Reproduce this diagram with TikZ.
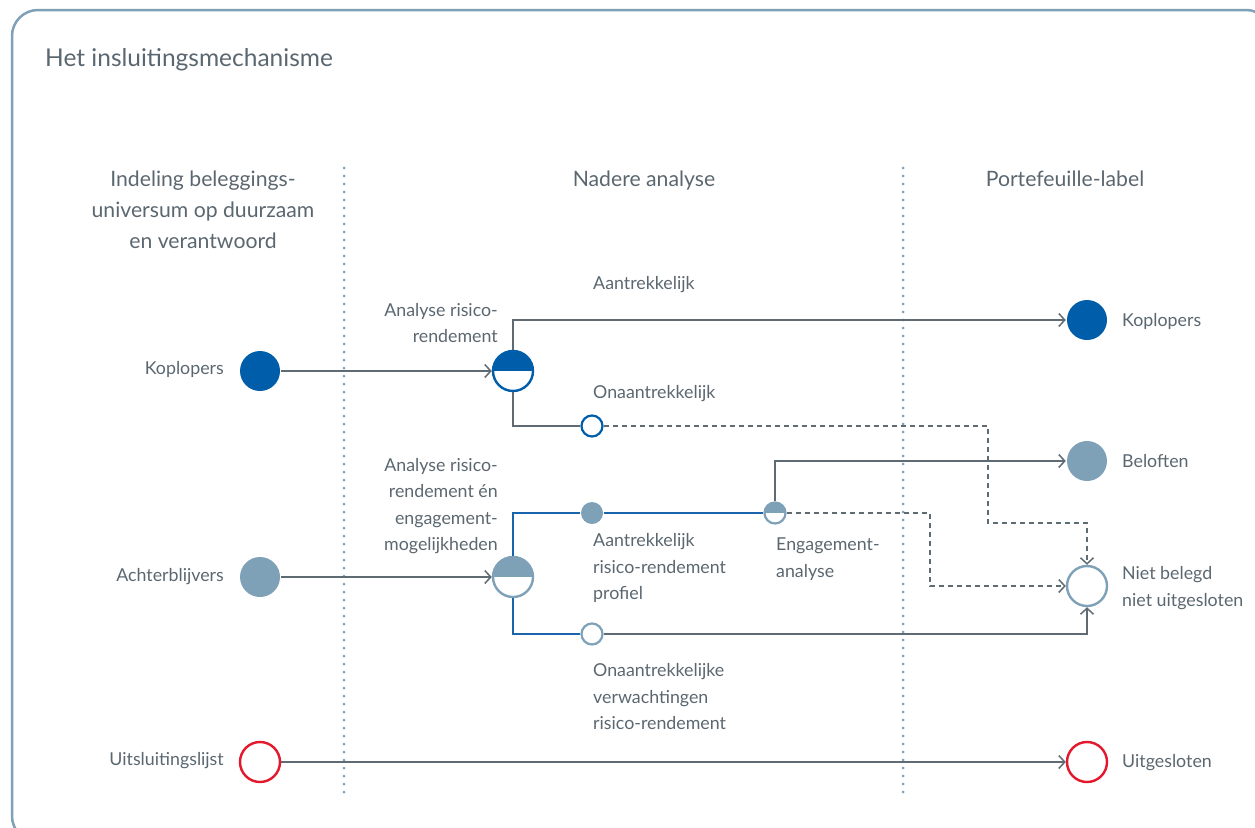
\documentclass[tikz,border=0pt]{standalone}
\usepackage{fontspec}
\setmainfont{Lato}
\usetikzlibrary{arrows.meta}
\definecolor{dblue}{HTML}{005DAA}
\definecolor{gblue}{HTML}{7FA1B8}
\definecolor{txtc}{HTML}{5B6770}
\definecolor{linec}{HTML}{5F6B73}
\definecolor{redc}{HTML}{E3182D}
\definecolor{lblue}{HTML}{1A64AE}
\tikzset{
  lbl/.style={text=txtc, font=\fontsize{17.8}{26.5}\selectfont, inner sep=0pt, align=left},
  lblr/.style={lbl, align=right},
  hdr/.style={text=txtc, font=\fontsize{21.2}{31}\selectfont, inner sep=0pt, align=center},
  bigc/.style={circle, minimum size=40pt, inner sep=0pt, line width=2.4pt},
  smallc/.style={circle, minimum size=21pt, inner sep=0pt, line width=2.2pt},
  halffill/.style={path picture={\fill[#1] (path picture bounding box.west) rectangle (path picture bounding box.north east);}},
  conn/.style={draw=linec, line width=1.5pt, -{Straight Barb[length=6pt,width=13pt,line width=1.5pt]}},
  bconn/.style={draw=lblue, line width=1.5pt},
  pconn/.style={draw=linec, line width=1.5pt},
  dconn/.style={conn, dash pattern=on 5pt off 4pt},
  dots/.style={draw=gblue, line width=3pt, line cap=round, dash pattern=on 0pt off 8pt},
}
\begin{document}
\begin{tikzpicture}[x=1pt,y=-1pt]
\useasboundingbox (0,0) rectangle (1255,827);
\clip (0,0) rectangle (1255,827);
\draw[gblue, line width=2.5pt, rounded corners=26pt] (12,10) rectangle (1272,842);
\node[anchor=base west, text=txtc, font=\fontsize{24.5}{30}\selectfont, inner sep=0pt] (title) at (45,66) {Het insluitingsmechanisme};
% headers
\node[hdr, anchor=north] (h1) at (203,171) {Indeling beleggings-\\universum op duurzaam\\en verantwoord};
\node[hdr, anchor=north] (h2) at (644,171) {Nadere analyse};
\node[hdr, anchor=north] (h3) at (1065,171) {Portefeuille-label};
% dotted separators
\coordinate (d1a) at (344,168); \coordinate (d1b) at (344,798);
\coordinate (d2a) at (903,168); \coordinate (d2b) at (903,798);
\draw[dots] (d1a) -- (d1b);
\draw[dots] (d2a) -- (d2b);
% circles
\node[bigc, fill=dblue] (kopL) at (260,371) {};
\node[bigc, draw=dblue, fill=white, halffill=dblue] (kopH) at (513,371) {};
\node[bigc, fill=dblue] (kopR) at (1087,320) {};
\node[smallc, draw=dblue, fill=white] (onA) at (592,426) {};
\node[bigc, fill=gblue] (achL) at (260,577) {};
\node[bigc, draw=gblue, fill=white, halffill=gblue] (achH) at (513,577) {};
\node[smallc, fill=gblue, minimum size=22pt] (aR) at (592,513) {};
\node[smallc, draw=gblue, fill=white, halffill=gblue] (eng) at (775,513) {};
\node[bigc, fill=gblue] (bel) at (1087,461) {};
\node[bigc, draw=gblue, fill=white] (nb) at (1087,586) {};
\node[smallc, draw=gblue, fill=white] (onB) at (592,634) {};
\node[bigc, draw=redc, fill=white] (uitL) at (260,762) {};
\node[bigc, draw=redc, fill=white] (uitR) at (1087,762) {};
% labels
\node[lblr, anchor=east] (tKopL) at (224,369) {Koplopers};
\node[lblr, anchor=east] (tAchL) at (224,577) {Achterblijvers};
\node[lblr, anchor=east] (tUitL) at (224,761) {Uitsluitingslijst};
\node[lbl, anchor=west] (tKopR) at (1122,321) {Koplopers};
\node[lbl, anchor=west] (tBel) at (1122,461) {Beloften};
\node[lbl, anchor=west] (tNb) at (1122,588) {Niet belegd\\niet uitgesloten};
\node[lbl, anchor=west] (tUitR) at (1122,763) {Uitgesloten};
\node[lblr, anchor=east] (tAn1) at (498,323) {Analyse risico-\\rendement};
\node[lblr, anchor=east] (tAn2) at (498,506) {Analyse risico-\\rendement én\\engagement-\\mogelijkheden};
\node[lbl, anchor=west] (tAantr) at (593,285) {Aantrekkelijk};
\node[lbl, anchor=west] (tOnaan) at (593,394) {Onaantrekkelijk};
\node[lbl, anchor=west] (tAantr2) at (593,568) {Aantrekkelijk\\risico-rendement\\profiel};
\node[lbl, anchor=west] (tEng) at (776,559) {Engagement-\\analyse};
\node[lbl, anchor=west] (tOnaan2) at (593,697) {Onaantrekkelijke\\verwachtingen\\risico-rendement};
% bend coordinates
\coordinate (b1) at (988,426);
\coordinate (b2) at (988,523);
\coordinate (b3) at (930,513);
% connectors
\draw[conn] (kopL) -- (kopH);
\draw[conn] (kopH.north) |- (kopR);
\draw[pconn] (kopH.south) |- (onA);
\draw[dconn] (onA) -- (b1) -- (b2) -| (nb);
\draw[conn] (achL) -- (achH);
\draw[bconn] (achH.north) |- (aR);
\draw[bconn] (aR) -- (eng);
\draw[conn] (eng.north) |- (bel);
\draw[dconn] (eng) -- (b3) |- (nb);
\draw[bconn] (achH.south) |- (onB);
\draw[conn] (onB) -| (nb);
\draw[conn] (uitL) -- (uitR);
\end{tikzpicture}
\end{document}
